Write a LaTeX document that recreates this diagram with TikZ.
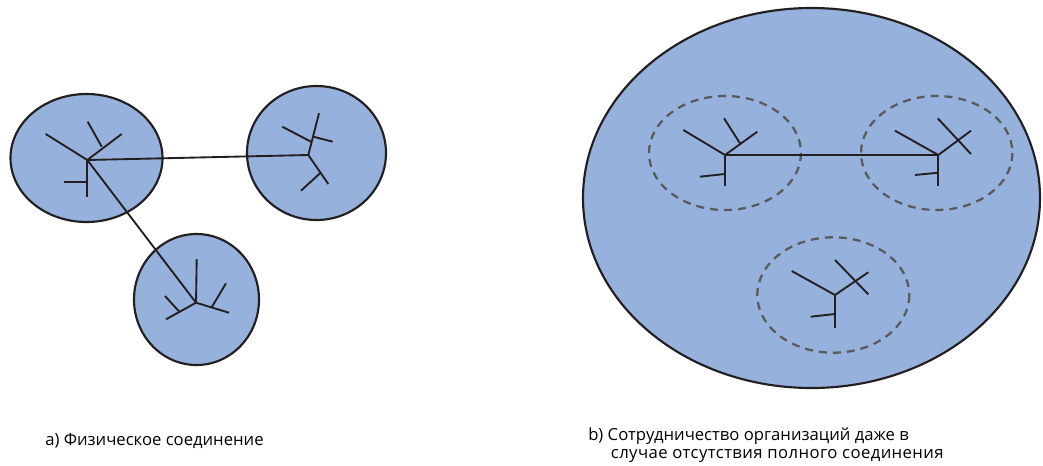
\documentclass[tikz,border=0pt]{standalone}
\usepackage{fontspec}
\newfontfamily\figsans{Open Sans}
\usetikzlibrary{positioning}
\definecolor{netblue}{RGB}{150,177,220}
\definecolor{netdark}{RGB}{35,31,32}
\definecolor{netgray}{RGB}{90,90,92}
\tikzset{
  figfont/.style={font=\figsans\fontsize{12.5}{13}\selectfont},
  netcircle/.style={draw=netdark, fill=netblue, line width=1.6pt},
  netdashed/.style={draw=netgray, line width=1.7pt, dash pattern=on 6pt off 4.5pt},
  treeline/.style={draw=netdark, line width=1.4pt},
  linkline/.style={draw=netdark, line width=1.4pt},
}

\begin{document}
\begin{tikzpicture}[x=0.75pt,y=-0.75pt,figfont]
		\useasboundingbox (0,0) rectangle (1043,465);

		% Left: physically connected networks
		\path[netcircle] (86.5,158) ellipse [x radius=76, y radius=64];
		\path[netcircle] (316.5,153) ellipse [x radius=69.5, y radius=67];
		\path[netcircle] (196.5,299.5) ellipse [x radius=62.5, y radius=65.5];

		\coordinate (hubA) at (87.3,160);
		\coordinate (hubB) at (308.3,155);
		\coordinate (hubC) at (196,302.7);

		% tree A
		\draw[treeline] (45.7,134) -- (hubA) -- (121.7,134);
		\draw[treeline] (101.7,146.7) -- (87.7,121.7);
		\draw[treeline] (hubA) -- (87.3,196.7);
		\draw[treeline] (87.3,181.7) -- (64.3,181.7);
		% tree B
		\draw[treeline] (hubB) -- (319,113.3);
		\draw[treeline] (282.3,126.7) -- (311,141.7);
		\draw[treeline] (313.3,136.7) -- (332.7,141.7);
		\draw[treeline] (hubB) -- (328.3,184);
		\draw[treeline] (320,173.3) -- (301,190.7);
		% tree C
		\draw[treeline] (hubC) -- (196.7,259);
		\draw[treeline] (hubC) -- (229,312.7);
		\draw[treeline] (211.7,307.3) -- (226,283.3);
		\draw[treeline] (hubC) -- (166,319.3);
		\draw[treeline] (179.3,311.7) -- (165,296);

		% physical links
		\draw[linkline] (hubA) -- (hubB);
		\draw[linkline] (hubA) -- (hubC);

		\node[anchor=west, inner sep=0pt] (capA) at (45,441) {a) Физическое соединение};

		% Right: cooperation inside one organisation space
		\path[netcircle] (811.5,198) ellipse [x radius=228.5, y radius=190];
		\path[netdashed] (725,153) ellipse [x radius=76, y radius=57];
		\path[netdashed] (936.7,153) ellipse [x radius=75.7, y radius=57];
		\path[netdashed] (833.3,295) ellipse [x radius=76, y radius=57.7];

		\coordinate (hubD) at (725,155);
		\coordinate (hubE) at (938.3,155);
		\coordinate (hubF) at (835,295);

		% tree D
		\draw[treeline] (683.3,130) -- (hubD) -- (757.3,131.7);
		\draw[treeline] (740,143.3) -- (724,118.3);
		\draw[treeline] (hubD) -- (725,185.7);
		\draw[treeline] (725,174) -- (700,176.7);
		% tree E
		\draw[treeline] (895,130.7) -- (hubE) -- (971,130.7);
		\draw[treeline] (937.7,118.3) -- (971,154);
		\draw[treeline] (hubE) -- (938.3,186);
		\draw[treeline] (938.3,172.7) -- (915,175);
		% tree F
		\draw[treeline] (791.7,271) -- (hubF) -- (868.3,272.3);
		\draw[treeline] (835,260) -- (868.3,294.3);
		\draw[treeline] (hubF) -- (835,328.3);
		\draw[treeline] (835,314) -- (810.7,316.7);

		\draw[linkline] (hubD) -- (hubE);

		\node[anchor=west, align=left, inner sep=0pt] (capB) at (588,445)
		{b) Сотрудничество организаций даже в\\
		\hspace*{17pt}{\addfontfeatures{LetterSpace=2.5}случае отсутствия полного соединения}};
	\end{tikzpicture}
\end{document}
